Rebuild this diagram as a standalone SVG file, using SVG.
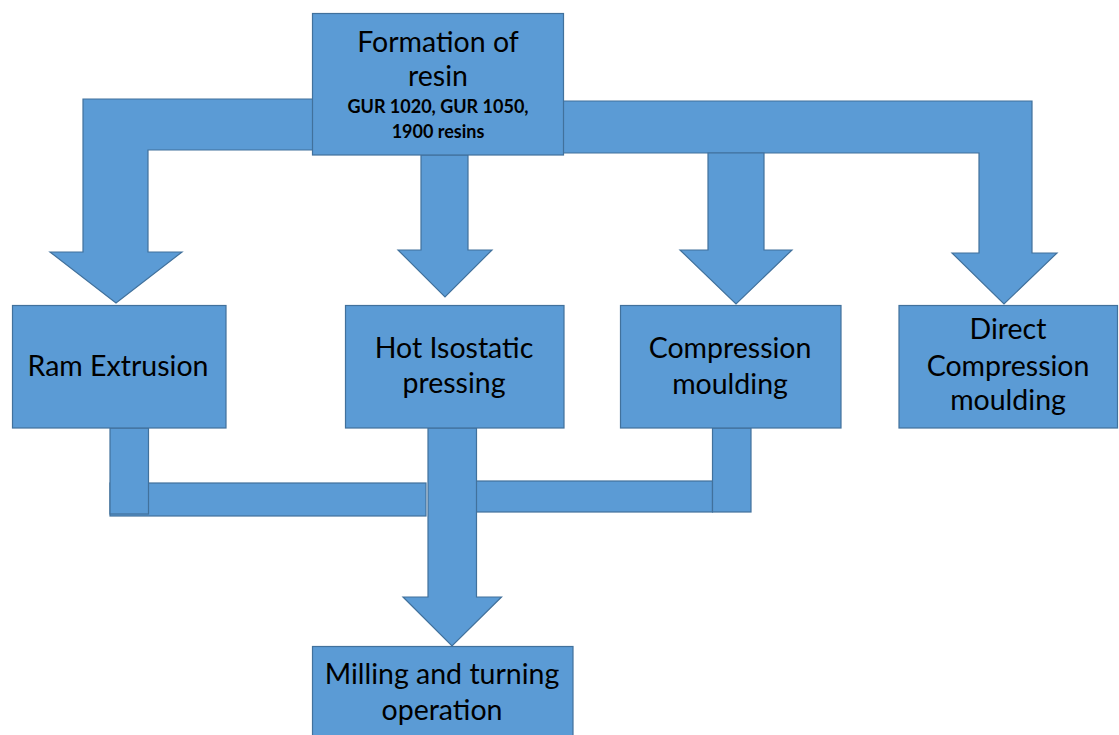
<svg xmlns="http://www.w3.org/2000/svg" width="1119" height="735" viewBox="0 0 1119 735">
<style>
.s{fill:#5B9BD5;stroke:#41719C;stroke-width:1.2}
.t{font-family:Lato,"Open Sans","Noto Sans",sans-serif;font-size:28.5px;fill:#000;text-anchor:middle}
.b{font-family:Lato,"Open Sans","Noto Sans",sans-serif;font-size:18px;font-weight:bold;fill:#000;text-anchor:middle}
</style>
<rect width="1119" height="735" fill="#fff"/>
<g id="connectors">
<polygon class="s" points="313,99 83,99 83,252 50,252 116,303 182,252 148,252 148,150 313,150"/>
<polygon class="s" points="563,101 1032,101 1032,253 1057,253 1004,304 952,253 979,253 979,153 563,153"/>
<polygon class="s" points="421,155 468,155 468,250 492,250 445,297 398,250 421,250"/>
<polygon class="s" points="708,153 764,153 764,250 792,250 736,304 680,250 708,250"/>
<rect class="s" x="110" y="483" width="316" height="33"/>
<rect class="s" x="110" y="428" width="38.5" height="86"/>
<rect class="s" x="476" y="481" width="236.5" height="31"/>
<rect class="s" x="712.5" y="428" width="38.5" height="84"/>
<polygon class="s" points="428,428 476.5,428 476.5,597 501.5,597 452,646 403,597 428,597"/>
</g>
<g id="n-resin">
<rect class="s" x="312.5" y="13.5" width="251" height="141.5"/>
<text class="t" x="438" y="52">Formation of</text>
<text class="t" x="438" y="86">resin</text>
<text class="b" x="438" y="113">GUR 1020, GUR 1050,</text>
<text class="b" x="438" y="138">1900 resins</text>
</g>
<g id="n-ram">
<rect class="s" x="12.5" y="305.5" width="213.5" height="122.5"/>
<text class="t" x="118" y="376">Ram Extrusion</text>
</g>
<g id="n-hot">
<rect class="s" x="345.5" y="305.5" width="218.5" height="122.5"/>
<text class="t" x="454" y="358">Hot Isostatic</text>
<text class="t" x="454" y="393">pressing</text>
</g>
<g id="n-comp">
<rect class="s" x="620.5" y="305.5" width="220.5" height="122.5"/>
<text class="t" x="730" y="358">Compression</text>
<text class="t" x="730" y="394">moulding</text>
</g>
<g id="n-direct">
<rect class="s" x="899" y="305.5" width="218.5" height="122.5"/>
<text class="t" x="1008" y="339">Direct</text>
<text class="t" x="1008" y="376">Compression</text>
<text class="t" x="1008" y="410">moulding</text>
</g>
<g id="n-mill">
<rect class="s" x="312.5" y="646.5" width="260.5" height="95"/>
<text class="t" x="442" y="684">Milling and turning</text>
<text class="t" x="442" y="720">operation</text>
</g>
</svg>
